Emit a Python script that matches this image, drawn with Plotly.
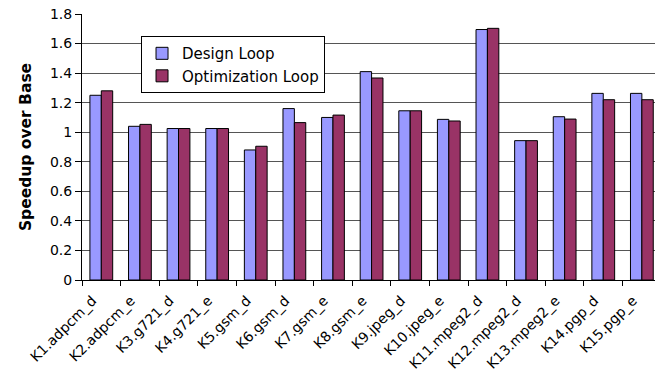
import plotly.graph_objects as go

categories = ["K1.adpcm_d", "K2.adpcm_e", "K3.g721_d", "K4.g721_e", "K5.gsm_d",
              "K6.gsm_d", "K7.gsm_e", "K8.gsm_e", "K9.jpeg_d", "K10.jpeg_e",
              "K11.mpeg2_d", "K12.mpeg2_d", "K13.mpeg2_e", "K14.pgp_d", "K15.pgp_e"]
design_loop = [1.25, 1.04, 1.025, 1.025, 0.88, 1.16, 1.10, 1.41, 1.145, 1.087,
               1.695, 0.943, 1.105, 1.263, 1.263]
optimization_loop = [1.28, 1.053, 1.025, 1.025, 0.905, 1.065, 1.116, 1.367, 1.145, 1.076,
                     1.703, 0.943, 1.089, 1.22, 1.22]
y_ticks = [0, 0.2, 0.4, 0.6, 0.8, 1.0, 1.2, 1.4, 1.6, 1.8]
y_tick_labels = ["0", "0.2", "0.4", "0.6", "0.8", "1", "1.2", "1.4", "1.6", "1.8"]

font = "DejaVu Sans"

fig = go.Figure()
fig.add_trace(go.Bar(x=categories, y=design_loop, name="Design Loop",
                     marker=dict(color="#9999FF", line=dict(color="#000000", width=1))))
fig.add_trace(go.Bar(x=categories, y=optimization_loop, name="Optimization Loop",
                     marker=dict(color="#993366", line=dict(color="#000000", width=1))))

fig.update_layout(
    width=655, height=378,
    margin=dict(l=82, r=0, t=14, b=98),
    plot_bgcolor="white", paper_bgcolor="white",
    barmode="group", bargap=0.41, bargroupgap=0,
    font=dict(family=font, size=15, color="#000000"),
    showlegend=True,
    legend=dict(x=0.103, y=0.917, xanchor="left", yanchor="top",
                bgcolor="white", bordercolor="#000000", borderwidth=1,
                font=dict(family=font, size=15), tracegroupgap=0,
                itemwidth=30),
    xaxis=dict(type="category", range=[-0.5, 14.34], tickangle=-45,
               showline=True, linecolor="#000000", linewidth=1,
               ticks="outside", tickson="boundaries", ticklen=5, tickcolor="#000000",
               ticklabelstandoff=6, ticklabelshift=-9, automargin=False,
               showgrid=False, tickfont=dict(family=font, size=14)),
    yaxis=dict(range=[0, 1.8], tickvals=y_ticks, ticktext=y_tick_labels,
               showline=True, linecolor="#000000", linewidth=1,
               ticks="outside", ticklen=6, tickcolor="#000000",
               showgrid=True, gridcolor="#555555", gridwidth=1, zeroline=False,
               tickfont=dict(family=font, size=14), automargin=False,
               title=dict(text="<b>Speedup over Base</b>", font=dict(family=font, size=15.5), standoff=14)),
)

fig.write_html("out.html")
